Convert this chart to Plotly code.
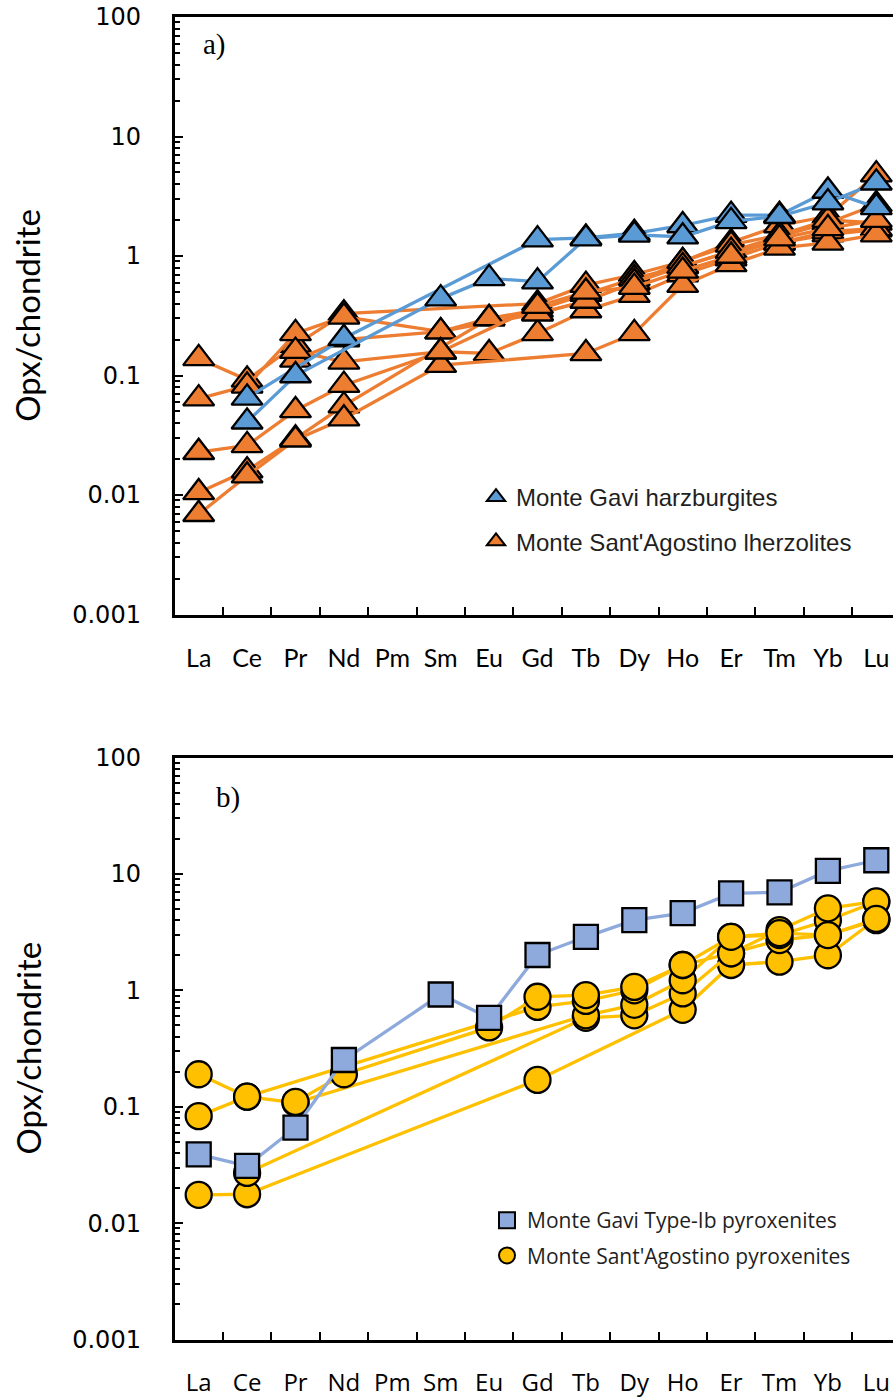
import plotly.graph_objects as go

# Rare earth elements (x categories)
ree = ["La", "Ce", "Pr", "Nd", "Pm", "Sm", "Eu", "Gd", "Tb", "Dy", "Ho", "Er", "Tm", "Yb", "Lu"]

# y-axis tick labels (log scale)
y_tickvals = [0.001, 0.01, 0.1, 1, 10, 100]
y_ticktext = ["0.001", "0.01", "0.1", "1", "10", "100"]

# (a) Monte Gavi harzburgites, orthopyroxene / chondrite
gavi_hz_1 = [None, 0.065, None, 0.205, None, None, None, 1.37, 1.42, 1.55, 1.80, 2.20, 2.20, 3.50, 2.55]
gavi_hz_2 = [None, 0.041, 0.10, None, None, 0.44, 0.65, 0.61, 1.40, 1.50, 1.45, 1.95, 2.15, 2.80, 4.10]

# (a) Monte Sant'Agostino lherzolites
msa_lz_1 = [0.139, 0.092, 0.18, 0.33, None, None, None, 0.40, 0.57, 0.70, 0.90, 1.30, 1.80, 2.15, 4.80]
msa_lz_2 = [0.064, 0.082, 0.225, 0.31, None, 0.233, 0.30, 0.354, 0.48, 0.65, 0.82, 1.10, 1.46, 1.89, 2.70]
msa_lz_3 = [None, None, 0.135, 0.20, None, 0.233, None, 0.33, 0.42, 0.60, 0.90, 1.24, 1.50, 2.00, 1.89]
msa_lz_4 = [0.0228, 0.026, 0.051, 0.083, None, 0.158, 0.153, 0.225, 0.35, 0.47, 0.70, 0.95, 1.29, 1.51, 1.66]
msa_lz_5 = [0.0105, 0.016, 0.0296, 0.056, None, None, 0.30, 0.33, 0.42, 0.60, 0.82, 1.10, 1.29, 1.60, 1.70]
msa_lz_6 = [0.0069, 0.0145, 0.029, 0.0435, None, 0.122, None, None, 0.153, 0.225, 0.57, 0.85, 1.17, 1.29, 1.51]
msa_lz_7 = [None, None, 0.16, 0.13, None, 0.158, None, 0.38, 0.50, 0.55, 0.75, 1.00, 1.40, 1.70, 2.00]

# (b) Monte Gavi Type-Ib pyroxenite
gavi_px = [0.039, 0.031, 0.066, 0.252, None, 0.92, 0.58, 2.01, 2.88, 4.01, 4.60, 6.80, 6.95, 10.6, 13.1]

# (b) Monte Sant'Agostino pyroxenites
msa_px_1 = [0.0175, 0.0177, None, None, None, None, None, 0.17, None, None, 0.68, 1.65, 1.76, 2.00, 4.10]
msa_px_2 = [None, 0.027, None, None, None, None, None, None, 0.58, 0.61, 0.94, 2.08, 2.70, 3.00, 4.00]
msa_px_3 = [0.083, 0.122, 0.108, None, None, None, None, None, 0.61, 0.75, 1.22, 2.88, 2.98, 4.00, 5.76]
msa_px_4 = [0.19, 0.122, None, None, None, None, None, 0.72, 0.81, 1.00, 1.65, 2.08, 3.29, 5.06, 5.80]
msa_px_5 = [None, None, 0.11, 0.19, None, None, 0.48, 0.88, 0.91, 1.07, 1.65, 2.88, 3.10, 2.98, 4.10]

BLUE = "#5B9BD5"
ORANGE = "#ED7D31"
LIGHTBLUE = "#8EA9DB"
YELLOW = "#FFC000"

W, H = 893, 1399
AX_LEFT = 174.5          # px, left spine
CAT_W = 48.4             # px per category
X_RANGE = [-0.5, (W - AX_LEFT) / CAT_W - 0.5]

fig = go.Figure()


def add_series(values, color, symbol, size, xa, ya):
    fig.add_trace(go.Scatter(
        x=ree, y=values, xaxis=xa, yaxis=ya,
        mode="lines+markers", connectgaps=True, showlegend=False,
        line=dict(color=color, width=3.3),
        marker=dict(symbol=symbol, size=size, color=color,
                    line=dict(color="black", width=2.3)),
        cliponaxis=False, hoverinfo="skip",
    ))


for s in [msa_lz_1, msa_lz_2, msa_lz_3, msa_lz_4, msa_lz_5, msa_lz_6, msa_lz_7]:
    add_series(s, ORANGE, "triangle-up", 27, "x", "y")
for s in [gavi_hz_1, gavi_hz_2]:
    add_series(s, BLUE, "triangle-up", 27, "x", "y")

for s in [msa_px_1, msa_px_2, msa_px_3, msa_px_4, msa_px_5]:
    add_series(s, YELLOW, "circle", 26, "x2", "y2")
add_series(gavi_px, LIGHTBLUE, "square", 24, "x2", "y2")


def legend_entry(name, color, symbol, legend, group, rank):
    fig.add_trace(go.Scatter(
        x=[None], y=[None], mode="markers", name=name,
        marker=dict(symbol=symbol, size=16, color=color,
                    line=dict(color="black", width=2)),
        legend=legend, legendgroup=group, legendrank=rank,
        xaxis="x" if legend == "legend" else "x2",
        yaxis="y" if legend == "legend" else "y2",
    ))


legend_entry("Monte Gavi harzburgites", BLUE, "triangle-up", "legend", "a1", 1)
legend_entry("Monte Sant'Agostino lherzolites", ORANGE, "triangle-up", "legend", "a2", 2)
legend_entry("Monte Gavi Type-Ib pyroxenites", LIGHTBLUE, "square", "legend2", "b1", 1)
legend_entry("Monte Sant'Agostino pyroxenites", YELLOW, "circle", "legend2", "b2", 2)

minor_vals = [k * 10 ** e for e in range(-3, 2) for k in range(2, 10)]


def yaxis_style(top_px, bottom_px):
    return dict(
        type="log", range=[-3, 2], domain=[1 - bottom_px / H, 1 - top_px / H],
        tickmode="array", tickvals=y_tickvals, ticktext=y_ticktext,
        ticks="inside", ticklen=9, tickwidth=2, tickcolor="black",
        minor=dict(ticks="inside", ticklen=6, tickwidth=2, tickcolor="black",
                   tickmode="array", tickvals=minor_vals),
        showline=True, linewidth=2.5, linecolor="black", mirror=False,
        showgrid=False, zeroline=False, automargin=False,
        tickfont=dict(family="DejaVu Sans", size=24, color="black"),
        ticklabelstandoff=26,
    )


def xaxis_style(font_family, font_size, anchor):
    return dict(
        type="category", categoryorder="array", categoryarray=ree,
        range=X_RANGE, domain=[AX_LEFT / W, 1], anchor=anchor,
        tickson="boundaries", ticks="inside", ticklen=8, tickwidth=2,
        tickcolor="black", showline=True, linewidth=2.5, linecolor="black",
        mirror=True, showgrid=False, zeroline=False, automargin=False,
        tickfont=dict(family=font_family, size=font_size, color="black"),
        ticklabelstandoff=20,
    )


fig.update_layout(
    width=W, height=H, margin=dict(l=0, r=0, t=0, b=0, autoexpand=False),
    paper_bgcolor="white", plot_bgcolor="white",
    xaxis=xaxis_style("Lato", 25, "y"),
    yaxis=yaxis_style(17, 614.5),
    xaxis2=xaxis_style("Open Sans", 24, "y2"),
    yaxis2=yaxis_style(757.5, 1339.5),
    yaxis2_anchor="x2",
    legend=dict(
        x=476 / W, y=1 - 475 / H, xanchor="left", yanchor="top",
        font=dict(family="Liberation Sans", size=24, color="#1f1f1f"),
        bgcolor="rgba(0,0,0,0)", traceorder="grouped", tracegroupgap=10,
        itemsizing="trace",
    ),
    legend2=dict(
        x=487 / W, y=1 - 1200 / H, xanchor="left", yanchor="top",
        font=dict(family="Open Sans", size=21, color="#1f1f1f"),
        bgcolor="rgba(0,0,0,0)", traceorder="grouped", tracegroupgap=5,
        itemsizing="trace",
    ),
    showlegend=True,
)

# Axis titles and panel labels
for yc in [(17 + 614.5) / 2, (757.5 + 1339.5) / 2]:
    fig.add_annotation(
        text="Opx/chondrite", x=27 / W, y=1 - yc / H, xref="paper", yref="paper",
        textangle=-90, showarrow=False, xanchor="center", yanchor="middle",
        font=dict(family="Lato", size=33, color="black"),
    )
fig.add_annotation(text="a)", x=214 / W, y=1 - 45 / H, xref="paper", yref="paper",
                   xanchor="center", yanchor="middle", showarrow=False,
                   font=dict(family="Liberation Serif", size=29, color="black"))
fig.add_annotation(text="b)", x=228 / W, y=1 - 797 / H, xref="paper", yref="paper",
                   xanchor="center", yanchor="middle", showarrow=False,
                   font=dict(family="Liberation Serif", size=29, color="black"))

fig.write_html("out.html")
